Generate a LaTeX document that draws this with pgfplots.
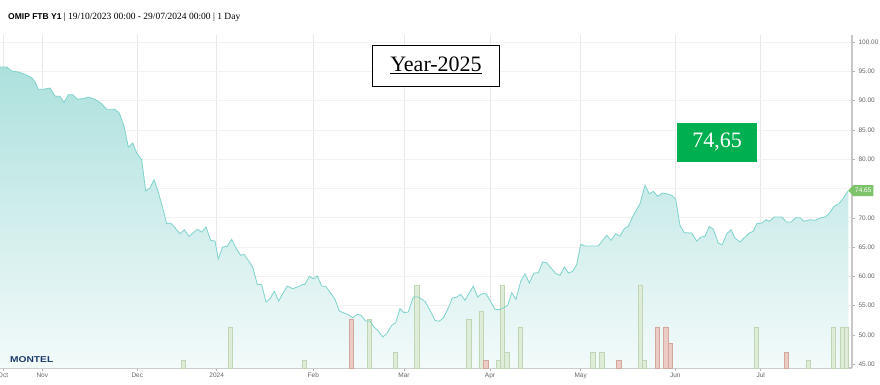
\documentclass[border=0pt]{standalone}
\usepackage{fontspec}
\setmainfont{Liberation Sans}
\newfontfamily\serif{Liberation Serif}
\usepackage{pgfplots}
\usepackage{pgfplotstable}
\pgfplotsset{compat=1.18}
\definecolor{linec}{HTML}{7DD3CC}
\definecolor{filltop}{HTML}{ADE1DD}
\definecolor{fillbot}{HTML}{F3FAFA}
\definecolor{vgreen}{HTML}{DFEDD8}
\definecolor{vgreenb}{HTML}{BFD6B5}
\definecolor{vred}{HTML}{EBCBC3}
\definecolor{vredb}{HTML}{D3A79C}
\definecolor{boxgreen}{HTML}{00B050}
\definecolor{flag}{HTML}{7CC36A}
\definecolor{navy}{HTML}{1D3C6E}

\pgfplotstableread{
x y
0 95.73
6.7 95.73
11.7 95.05
18.3 94.88
25 94.49
31.7 93.91
35 93.17
38.3 91.93
43.3 91.93
50 92.15
55 90.78
60 90.73
64 89.64
68.3 91.01
72.7 91.01
77.3 90.27
82.7 90.32
88.3 90.61
95 90.22
101.7 89.47
106.7 88.52
115 88.52
119.3 87.88
124 85.61
128.3 82.08
132.7 82.76
136.7 81.06
141.7 79.91
145.7 74.57
150 75.09
154 76.50
158.3 74.40
163.3 71.28
166.7 68.99
170.7 69.11
175 68.31
180 67.29
184.3 67.97
189 66.84
193.3 67.46
197.3 68.04
201.7 67.58
206 68.43
210.7 66.16
215 66.04
218.3 62.97
222.7 65.02
227.3 65.14
231.7 66.33
236.7 64.62
240.7 63.60
244 63.77
248.3 62.75
252.7 61.60
257.3 58.65
261.7 58.58
266 55.63
270 56.19
274.3 57.46
278.7 55.80
282.7 57.05
287.3 58.36
292.7 57.90
297.3 58.19
301.7 58.58
305 58.65
309.3 60.02
313.3 59.61
317.3 60.07
321.7 58.36
325.7 58.31
330 57.34
335 56.09
339.3 54.10
343.3 53.81
348.3 53.46
352.7 52.95
357.3 53.53
361 53.36
365.7 52.39
370 52.39
374 51.37
378.3 50.68
382.7 49.66
386.7 50.22
391.7 51.65
395.7 52.10
400 54.49
404 53.81
408.3 53.93
413.3 56.48
418.3 56.48
425 55.75
430 54.22
435 52.51
439 52.34
443.3 52.90
448.3 54.61
452.3 56.31
456.7 56.48
460.7 56.95
465 55.92
469.3 57.22
473.3 58.31
477.7 56.48
481.7 57.05
486 57.05
490 55.92
495 54.39
499 54.32
503.3 54.61
507.7 55.07
511.7 57.22
516 56.09
520.7 59.16
525 60.46
529.3 58.87
534 60.58
538.3 60.63
542.7 62.46
546.7 62.34
551 61.43
556 60.46
560 60.19
564.3 61.60
568.3 60.58
572.7 60.87
576.7 62.00
580.7 65.48
585 65.19
598.3 65.19
602.7 66.16
606.7 67.01
611 66.16
615.7 67.29
620 66.89
624.3 68.14
628.3 68.55
633.3 70.43
640 72.41
645 75.55
649.3 74.11
653.3 74.52
657.7 73.67
662.3 74.23
666.7 74.11
671.7 73.84
675.7 73.16
680 68.72
684.3 67.46
691.7 67.41
696.7 66.04
701 66.72
705 66.84
709.3 68.55
713.3 68.04
718.3 65.70
722.3 65.41
726.7 67.29
731 67.97
735 66.55
740 65.87
744.3 66.60
749.3 67.41
753.3 67.70
756.7 68.99
761.7 69.11
766 69.68
769.3 69.40
774.3 70.14
781.7 70.14
786.7 69.28
791 69.28
795.7 70.02
800 70.02
804 69.40
810 69.68
815 69.57
820 69.97
825 70.14
829 70.70
834 71.96
839 72.41
843.3 73.38
848.3 74.65
}\price

\pgfplotstableread{
x v
183.3 45.68
230.3 51.37
304 45.68
369.3 52.68
395.3 47.10
416.7 58.48
468.7 52.68
481 54.10
498.3 45.68
502.3 58.48
506.7 47.10
520 51.37
592.7 47.10
601.7 47.10
640.3 58.48
644.3 45.68
756.3 51.37
808 45.68
833.3 51.37
842 51.37
846.3 51.37
}\volup

\pgfplotstableread{
x v
351.3 52.68
485.7 45.68
618.7 45.68
657.3 51.37
665.7 51.37
670.3 48.52
786.3 47.10
}\voldown

\begin{document}
\begin{tikzpicture}[x=1pt,y=1pt]
\useasboundingbox (0,0) rectangle (880,385);
\fill[white] (0,0) rectangle (880,385);
\begin{axis}[
  at={(0,29)}, anchor=south west,
  width=852pt, height=333pt, scale only axis,
  xmin=0, xmax=852, ymin=44.37, ymax=101.2,
  axis x line*=bottom, axis y line*=right,
  axis line style={-, draw=black!22, line width=1.3pt},
  xtick={3,42.3,137.3,216.7,313.3,404,490,580.7,675.3,760.7},
  xticklabels={Oct,Nov,Dec,2024,Feb,Mar,Apr,May,Jun,Jul},
  ytick={45,50,...,100},
  yticklabels={45.00,50.00,55.00,60.00,65.00,70.00,,80.00,85.00,90.00,95.00,100.00},
  tick style={draw=black!30, line width=0.6pt},
  major tick length=3pt, tick align=outside,
  xmajorgrids, ymajorgrids,
  x grid style={draw=black!9, line width=0.8pt},
  y grid style={draw=black!5, line width=0.8pt},
  ticklabel style={font=\fontsize{6.5}{7}\selectfont, text=black!60},
  xticklabel style={yshift=2pt},
]
\addplot[draw=none, top color=filltop, bottom color=fillbot] table[x=x,y=y] {\price} |- (axis cs:0,44.37) -- cycle;
\addplot[ybar, bar width=4.3pt, bar shift=0pt, fill=vgreen, draw=vgreenb, line width=0.5pt] table[x=x,y=v] {\volup};
\addplot[ybar, bar width=4.3pt, bar shift=0pt, fill=vred, draw=vredb, line width=0.5pt] table[x=x,y=v] {\voldown};
\addplot[linec, line width=0.8pt, no markers] table[x=x,y=y] {\price};
\coordinate (last) at (axis cs:848.3,74.65);
\end{axis}
\fill[flag] (last) -- ++(5,5.5) -- ++(20,0) -- ++(0,-11) -- ++(-20,0) -- cycle;
\node[text=white, font=\fontsize{6.5}{7}\selectfont, inner sep=0] at ([xshift=15pt]last) {74.65};
\node[draw=black, line width=0.8pt, fill=white, minimum width=126.6pt, minimum height=41pt, inner sep=0,
      font=\serif\fontsize{22}{24}\selectfont] at (436,319.5) {\underline{Year-2025}};
\node[fill=boxgreen, text=white, minimum width=80.6pt, minimum height=39pt, inner sep=0,
      font=\serif\fontsize{22}{24}\selectfont] at (717,242.8) {74,65};
\node[anchor=base west, inner sep=0] at (8,365) {\fontsize{8.5}{10}\selectfont\bfseries OMIP FTB Y1 {\serif\mdseries\fontsize{9.5}{10}\selectfont| 19/10/2023 00:00 - 29/07/2024 00:00 | 1 Day}};
\node[anchor=base west, inner sep=0, text=navy] at (10,22) {\scalebox{1.2}[1]{\fontsize{8.5}{10}\selectfont\bfseries MONTEL}};
\end{tikzpicture}
\end{document}
